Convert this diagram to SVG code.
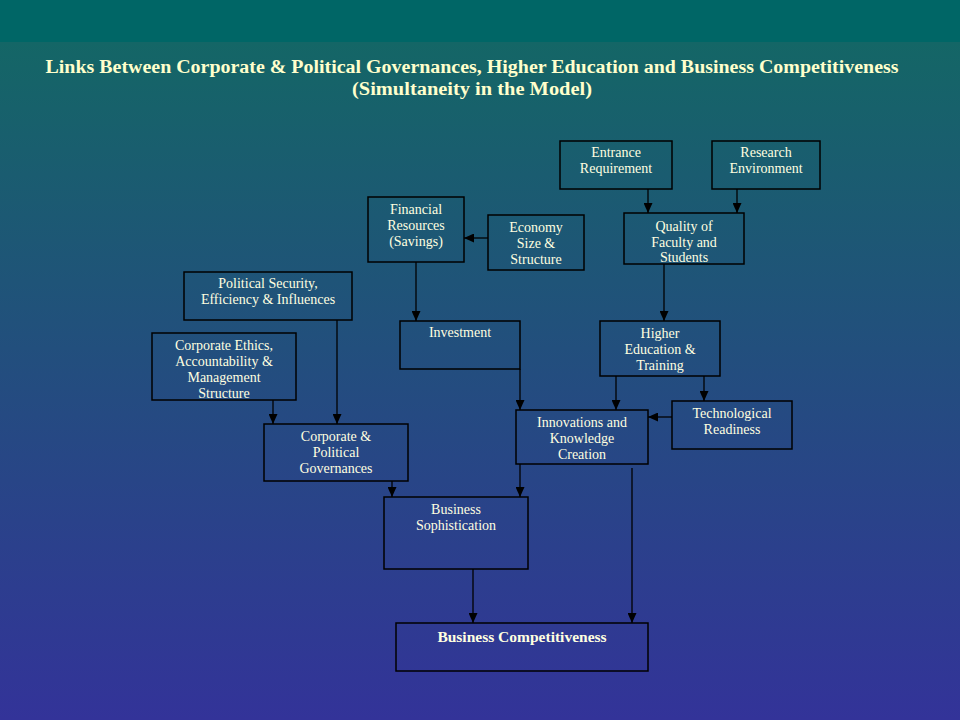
<svg xmlns="http://www.w3.org/2000/svg" width="960" height="720" viewBox="0 0 960 720">
<defs>
<linearGradient id="bg" x1="0" y1="0" x2="0" y2="1">
<stop offset="0" stop-color="#146666"/>
<stop offset="1" stop-color="#333399"/>
</linearGradient>
<marker id="arr" markerUnits="userSpaceOnUse" markerWidth="10" markerHeight="9" refX="10" refY="4.5" orient="auto">
<path d="M0,0 L10,4.5 L0,9 z" fill="#000"/>
</marker>
<style>
.box{fill:none;stroke:#000;stroke-width:1.5}
.t{font-family:"Liberation Serif","Times New Roman",serif;font-size:14px;fill:#FFFFE0;text-anchor:middle}
.title{font-family:"Liberation Serif","Times New Roman",serif;font-size:18px;font-weight:bold;fill:#FFFFCC;text-anchor:middle}
.c{fill:none;stroke:#000;stroke-width:1.3;marker-end:url(#arr)}
</style>
</defs>
<rect x="0" y="42" width="960" height="678" fill="url(#bg)"/>
<rect x="0" y="0" width="960" height="42" fill="#006666"/>
<g id="title">
<text class="title" x="472" y="73" textLength="853" lengthAdjust="spacingAndGlyphs">Links Between Corporate &amp; Political Governances, Higher Education and Business Competitiveness</text>
<text class="title" x="472" y="95" textLength="240" lengthAdjust="spacingAndGlyphs">(Simultaneity in the Model)</text>
</g>
<g id="connectors">
<line class="c" x1="648" y1="189" x2="648" y2="213"/>
<line class="c" x1="737" y1="189" x2="737" y2="213"/>
<line class="c" x1="488" y1="238" x2="464" y2="238"/>
<line class="c" x1="416" y1="262" x2="416" y2="321"/>
<line class="c" x1="664" y1="264" x2="664" y2="321"/>
<line class="c" x1="337" y1="320" x2="337" y2="424"/>
<line class="c" x1="273" y1="400" x2="273" y2="424"/>
<line class="c" x1="520" y1="369" x2="520" y2="410"/>
<line class="c" x1="616" y1="376" x2="616" y2="410"/>
<line class="c" x1="704" y1="376" x2="704" y2="401"/>
<line class="c" x1="672" y1="417" x2="648" y2="417"/>
<line class="c" x1="520" y1="464" x2="520" y2="497"/>
<line class="c" x1="392" y1="481" x2="392" y2="497"/>
<line class="c" x1="632" y1="468" x2="632" y2="623"/>
<line class="c" x1="473" y1="569" x2="473" y2="623"/>
</g>
<g id="entrance"><rect class="box" x="560" y="141" width="112" height="48"/>
<text class="t" x="616" y="157">Entrance</text><text class="t" x="616" y="173">Requirement</text></g>
<g id="research"><rect class="box" x="712" y="141" width="108" height="48"/>
<text class="t" x="766" y="157">Research</text><text class="t" x="766" y="173">Environment</text></g>
<g id="financial"><rect class="box" x="368" y="197" width="96" height="65"/>
<text class="t" x="416" y="214">Financial</text><text class="t" x="416" y="230">Resources</text><text class="t" x="416" y="246">(Savings)</text></g>
<g id="economy"><rect class="box" x="488" y="215" width="96" height="55"/>
<text class="t" x="536" y="232">Economy</text><text class="t" x="536" y="248">Size &amp;</text><text class="t" x="536" y="264">Structure</text></g>
<g id="quality"><rect class="box" x="624" y="213" width="120" height="51"/>
<text class="t" x="684" y="231">Quality of</text><text class="t" x="684" y="247">Faculty and</text><text class="t" x="684" y="262">Students</text></g>
<g id="political"><rect class="box" x="184" y="272" width="168" height="48"/>
<text class="t" x="268" y="288">Political Security,</text><text class="t" x="268" y="304">Efficiency  &amp; Influences</text></g>
<g id="investment"><rect class="box" x="400" y="321" width="120" height="48"/>
<text class="t" x="460" y="337">Investment</text></g>
<g id="higher"><rect class="box" x="600" y="321" width="120" height="55"/>
<text class="t" x="660" y="338">Higher</text><text class="t" x="660" y="354">Education &amp;</text><text class="t" x="660" y="370">Training</text></g>
<g id="ethics"><rect class="box" x="152" y="333" width="144" height="67"/>
<text class="t" x="224" y="350">Corporate Ethics,</text><text class="t" x="224" y="366">Accountability &amp;</text><text class="t" x="224" y="382">Management</text><text class="t" x="224" y="398">Structure</text></g>
<g id="innovations"><rect class="box" x="516" y="410" width="132" height="54"/>
<text class="t" x="582" y="427">Innovations and</text><text class="t" x="582" y="443">Knowledge</text><text class="t" x="582" y="459">Creation</text></g>
<g id="tech"><rect class="box" x="672" y="401" width="120" height="48"/>
<text class="t" x="732" y="418">Technological</text><text class="t" x="732" y="434">Readiness</text></g>
<g id="governances"><rect class="box" x="264" y="424" width="144" height="57"/>
<text class="t" x="336" y="441">Corporate &amp;</text><text class="t" x="336" y="457">Political</text><text class="t" x="336" y="473">Governances</text></g>
<g id="sophistication"><rect class="box" x="384" y="497" width="144" height="72"/>
<text class="t" x="456" y="514">Business</text><text class="t" x="456" y="530">Sophistication</text></g>
<g id="competitiveness"><rect class="box" x="396" y="623" width="252" height="48"/>
<text class="t" x="522" y="642" style="font-size:15.5px;font-weight:bold">Business Competitiveness</text></g>
</svg>
